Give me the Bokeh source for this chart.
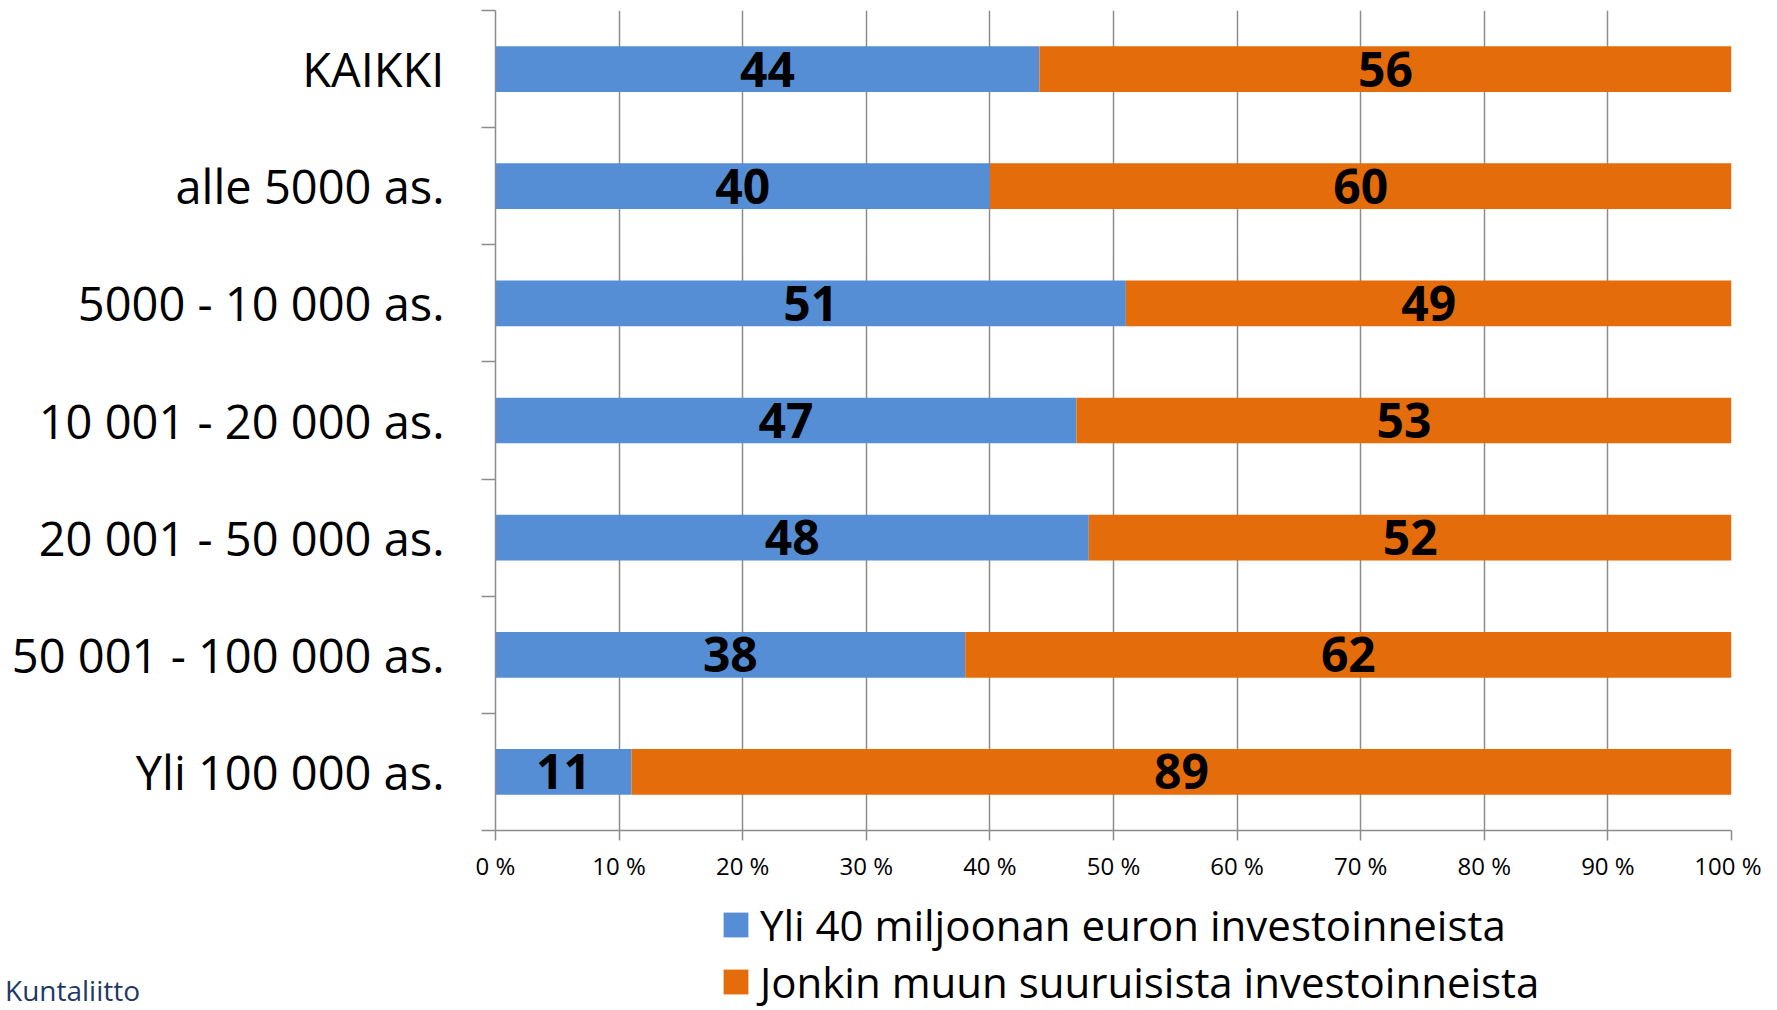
from bokeh.plotting import figure
from bokeh.layouts import column, row
from bokeh.models import Range1d, FixedTicker, Legend, LegendItem, ColumnDataSource, Div
from bokeh.core.properties import value
from bokeh.embed import file_html
from bokeh.resources import INLINE

categories = ["KAIKKI", "alle 5000 as.", "5000 - 10 000 as.", "10 001 - 20 000 as.",
              "20 001 - 50 000 as.", "50 001 - 100 000 as.", "Yli 100 000 as."]
yli40 = [44, 40, 51, 47, 48, 38, 11]
muu = [56, 60, 49, 53, 52, 62, 89]
series_names = ["Yli 40 miljoonan euron investoinneista", "Jonkin muun suuruisista investoinneista"]
x_ticks = [0, 10, 20, 30, 40, 50, 60, 70, 80, 90, 100]
x_tick_labels = ["0 %", "10 %", "20 %", "30 %", "40 %", "50 %", "60 %", "70 %", "80 %", "90 %", "100 %"]
footer_text = "Kuntaliitto"

BLUE = "#558ED5"
ORANGE = "#E46C0A"
GRID = "#8C8C8C"
FONT = "Open Sans"

n = len(categories)
ypos = [n - i - 0.5 for i in range(n)]

p = figure(width=1761, height=895, output_backend="svg", toolbar_location=None,
           x_range=Range1d(0, 100), y_range=Range1d(0, n))
p.min_border_left = 495
p.min_border_right = 30
p.min_border_top = 10
p.min_border_bottom = 65
p.outline_line_color = None

src = ColumnDataSource(dict(y=ypos,
                            a_end=yli40,
                            b_start=yli40,
                            b_end=[a + b for a, b in zip(yli40, muu)],
                            a_mid=[a / 2 for a in yli40],
                            b_mid=[a + b / 2 for a, b in zip(yli40, muu)],
                            a_txt=[str(v) for v in yli40],
                            b_txt=[str(v) for v in muu]))

p.hbar(y="y", left=0, right="a_end", height=0.39, source=src,
       fill_color=BLUE, line_color=None)
p.hbar(y="y", left="b_start", right="b_end", height=0.39, source=src,
       fill_color=ORANGE, line_color=None)

for xcol, tcol in (("a_mid", "a_txt"), ("b_mid", "b_txt")):
    p.text(x=xcol, y="y", text=tcol, source=src, text_align="center", text_baseline="middle",
           text_font=value(FONT), text_font_style="bold", text_font_size="48px", text_color="black")

# x axis
xa = p.xaxis[0]
xa.ticker = FixedTicker(ticks=x_ticks)
xa.major_label_overrides = {t: l for t, l in zip(x_ticks, x_tick_labels)}
xa.major_label_text_font = FONT
xa.major_label_text_font_size = "24px"
xa.major_label_text_color = "black"
xa.major_label_standoff = 8
xa.axis_line_color = GRID
xa.axis_line_width = 1.5
xa.major_tick_line_color = GRID
xa.major_tick_line_width = 1.5
xa.major_tick_out = 10
xa.major_tick_in = 0
xa.minor_tick_line_color = None

# y axis
ya = p.yaxis[0]
ya.ticker = FixedTicker(ticks=ypos, minor_ticks=list(range(0, n + 1)))
ya.major_label_overrides = {y: c for y, c in zip(ypos, categories)}
ya.major_label_text_font = FONT
ya.major_label_text_font_size = "47px"
ya.major_label_text_color = "black"
ya.major_label_standoff = 37
ya.axis_line_color = GRID
ya.axis_line_width = 1.5
ya.major_tick_line_color = None
ya.major_tick_out = 0
ya.major_tick_in = 0
ya.minor_tick_line_color = GRID
ya.minor_tick_line_width = 1.5
ya.minor_tick_out = 14
ya.minor_tick_in = 0

p.xgrid.grid_line_color = GRID
p.xgrid.grid_line_width = 1.5
p.xgrid.ticker = FixedTicker(ticks=x_ticks)
p.ygrid.grid_line_color = None

# legend panel
p2 = figure(width=1266, height=115, output_backend="svg", toolbar_location=None,
            x_range=Range1d(0, 100), y_range=Range1d(0, n))
p2.min_border_left = 0
p2.min_border_right = 0
p2.min_border_top = 0
p2.min_border_bottom = 0
p2.outline_line_color = None
p2.xaxis.visible = False
p2.yaxis.visible = False
p2.xgrid.visible = False
p2.ygrid.visible = False

d1 = p2.hbar(y="y", left=0, right="a_end", height=0.39, source=src,
             fill_color=BLUE, line_color=None, visible=False)
d2 = p2.hbar(y="y", left="b_start", right="b_end", height=0.39, source=src,
             fill_color=ORANGE, line_color=None, visible=False)

legend = Legend(items=[LegendItem(label=series_names[0], renderers=[d1]),
                       LegendItem(label=series_names[1], renderers=[d2])],
                location=(215, 0), orientation="vertical",
                padding=0, margin=0, spacing=0,
                glyph_width=31, glyph_height=31, label_standoff=9, label_height=50,
                label_text_font=FONT, label_text_font_size="42px", label_text_color="black",
                border_line_color=None, background_fill_alpha=0)
p2.add_layout(legend, "center")

footer = Div(text=('<div style="padding-top:71px;font-family:\'Open Sans\';font-size:28px;'
                   'line-height:normal;color:#1F3864;white-space:nowrap;">' + footer_text + '</div>'),
             width=495, height=115)

open("out.html", "w").write(file_html(column(p, row(footer, p2, spacing=0), spacing=0), INLINE))
